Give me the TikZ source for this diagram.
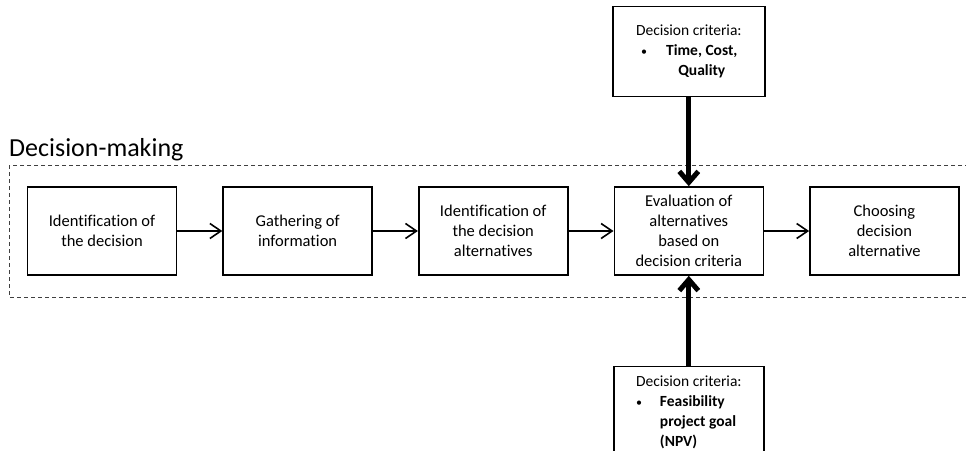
\documentclass[tikz,border=0pt]{standalone}
\usepackage{fontspec}
\setmainfont{Carlito}[Ligatures=NoCommon]
\usetikzlibrary{arrows.meta}
\usetikzlibrary{positioning}

\newcommand{\critdot}{{\fontsize{12}{12}\selectfont\textbullet}}

\tikzset{
  stagebox/.style={
    draw,
    line width=1.6pt,
    minimum width=149pt,
    minimum height=88pt,
    inner sep=2pt,
    align=center,
    font=\fontsize{16.5}{20}\selectfont,
  },
  critbox/.style={
    draw,
    fill=white,
    line width=1.6pt,
    inner xsep=2pt,
    font=\fontsize{15.5}{20}\selectfont,
  },
  flow/.style={
    line width=1.6pt,
    -{Straight Barb[length=11pt,width=15pt]},
  },
  heavyflow/.style={
    line width=5pt,
    -{Straight Barb[length=11pt,width=19pt]},
  },
}

\begin{document}
\begin{tikzpicture}[x=1pt,y=-1pt]
  \clip (0,0) rectangle (966,450);

  % Frame of the process
  \draw[
    line width=0.8pt,
    color=black!75,
    dash pattern=on 4pt off 3pt,
  ] (9,165) rectangle (980,297);

  \node[
    anchor=base west,
    inner sep=0pt,
    font=\fontsize{26}{30}\selectfont,
  ] (title) at (9,156) {Decision-making};

  \node[stagebox] (ident) at (102,231) {Identification of\\the decision};
  \node[stagebox,right=45pt of ident] (gather) {Gathering of\\information};
  \node[stagebox,right=45pt of gather] (altern) {Identification of\\the decision\\alternatives};
  \node[stagebox,right=45pt of altern] (eval) {Evaluation of\\alternatives\\based on\\decision criteria};
  \node[stagebox,right=45pt of eval] (choose) {Choosing\\decision\\alternative};

  \draw[flow] (ident) -- (gather);
  \draw[flow] (gather) -- (altern);
  \draw[flow] (altern) -- (eval);
  \draw[flow] (eval) -- (choose);

  % Criteria boxes
  \node[
    critbox,
    minimum width=152pt,
    minimum height=90pt,
    above=89pt of eval,
  ] (crittop) {%
    \begin{tabular}{@{\hspace{5pt}}l@{\hspace{19pt}}c@{\hspace{4pt}}}
      \multicolumn{2}{@{}c@{}}{Decision criteria:}\\
      \critdot & \textbf{Time, Cost,}\\
               & \textbf{Quality}
    \end{tabular}};

  \node[
    critbox,
    minimum width=150pt,
    inner ysep=6pt,
    below=90pt of eval,
  ] (critbottom) {%
    \begin{tabular}{@{}l@{\hspace{18pt}}l@{}}
      \multicolumn{2}{@{}l@{}}{Decision criteria:}\\
      \critdot & \textbf{Feasibility}\\
               & \textbf{project goal}\\
               & \textbf{(NPV)}
    \end{tabular}};

  \draw[heavyflow] (crittop) -- (eval);
  \draw[heavyflow] (critbottom) -- (eval);
\end{tikzpicture}
\end{document}
